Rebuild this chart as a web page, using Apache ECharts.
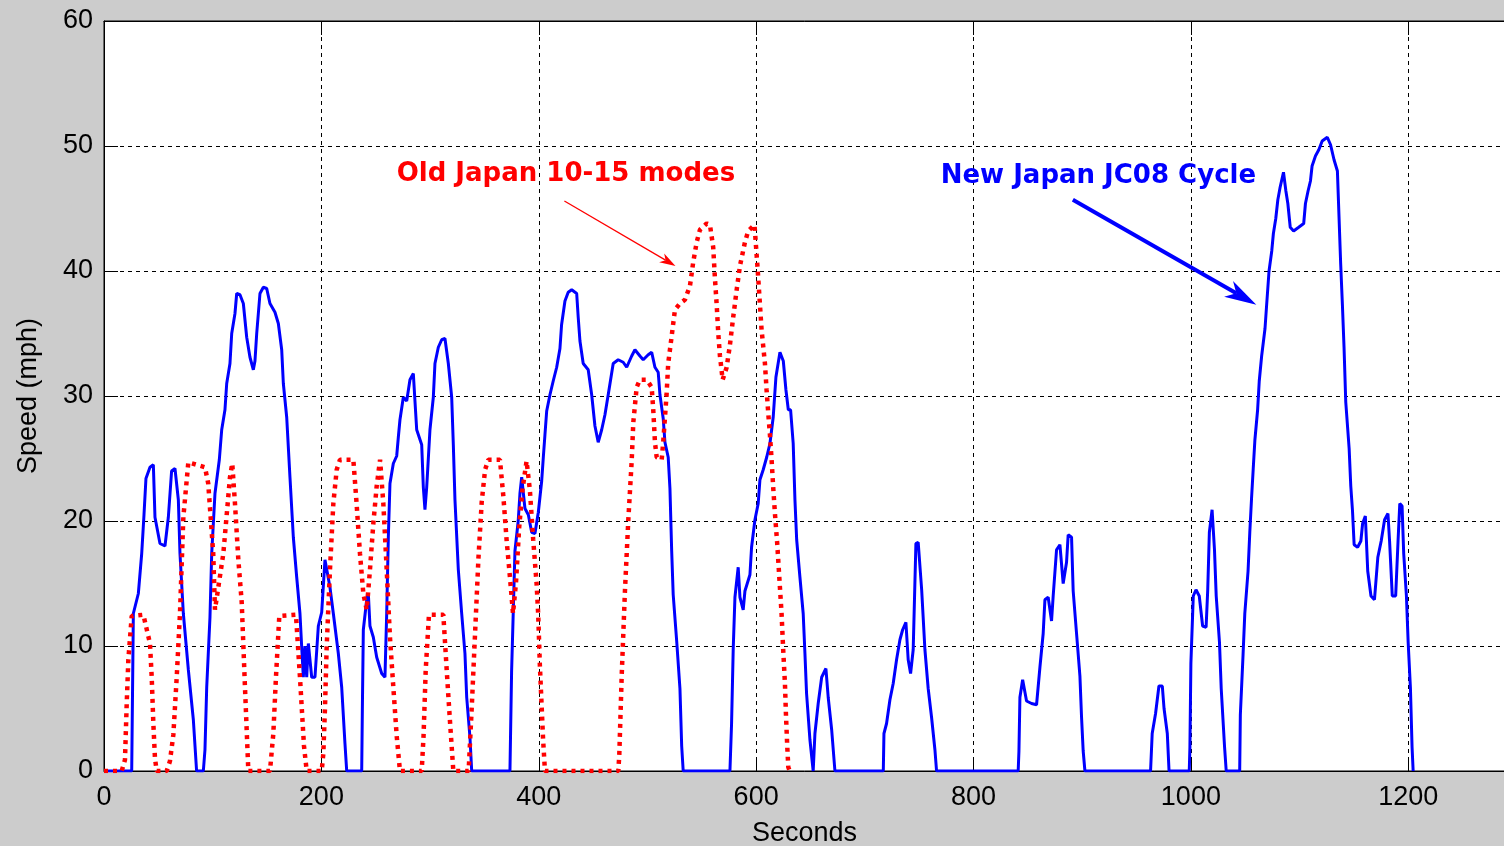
<!DOCTYPE html>
<html>
<head>
<meta charset="utf-8">
<script src="https://cdn.jsdelivr.net/npm/echarts@6/dist/echarts.min.js"></script>
<style>
html,body{margin:0;padding:0;background:#cccccc;}
#chart{width:1504px;height:846px;}
</style>
</head>
<body>
<div id="chart"></div>
<script>
// ---- Data (seconds, mph) ----
const jc08Time = [0,25.5,27,31.6,34.7,36.8,38.6,42.3,45.4,46.9,51.5,56.1,59.2,62.2,65.3,68.4,69.9,73,77.6,82.2,85.2,91.4,92.9,94.5,97.5,99.1,102.1,106.1,108.3,111.3,112.9,115.9,117.5,120.5,122.1,125.1,128.2,131.3,134.3,137.4,138.9,140.5,143.5,146.6,149.7,152.7,157.3,160.4,163.5,165,168.1,171.1,174.2,177.3,180.3,181.9,183.4,184.9,186.5,188,191.1,194.1,197.2,200.3,203.3,204.9,207.9,211,215.6,218.7,221.7,223.3,237.1,237.7,238.6,241.7,243.2,244.7,247.8,250.9,255.5,258.5,260.1,261.6,263.1,266.2,269.3,270.8,272.3,275.4,278.5,281.5,284.6,286.1,287.7,292.3,293.8,295.3,296.9,299.9,303,304.5,307.6,310.7,313.7,316.8,319.9,321.4,322.9,326,329.1,332.1,333.7,336.7,338.3,373.5,375,376.5,378.1,381.1,382.7,384.3,387.3,390.4,393.5,396.5,399.6,402.7,404.2,405.7,407.3,410.3,413.3,416.5,419.5,421,424.1,427.1,430.3,434.9,436.3,437.9,440.9,445.5,448.7,451.7,454.7,457.9,460.9,463.9,468.5,473.1,477.7,480.9,485.5,488.5,493.1,496.1,500.7,503.9,506.9,509.9,511.5,514.5,516.1,519.1,520.7,522.3,523.7,526.9,529.9,531.5,532.9,575.9,577.4,578.9,580.5,583.5,585.1,588.1,589.7,594.3,595.8,598.9,601.9,603.5,606.5,609.7,612.7,615.7,618.2,621.9,625,627.4,629.6,631.7,634.1,635.7,637.3,640.3,643.3,644.9,646.4,649.5,652.5,654.1,657.1,660.3,664.2,666.3,669.5,672.5,717,717.6,720,723.1,726.1,729.2,732.3,734.8,737.8,739.9,742.1,744.5,747,749.1,752.3,755.3,758.3,761.4,764.5,766,841.1,841.8,842.7,845.2,848.8,853.4,858,861.1,864.1,865.7,868.7,871.8,873.3,876.4,879.5,882.5,885.6,887.1,890.2,891.7,894.8,897.9,899.4,900.9,902.5,962.9,964.4,967.5,970.6,973.7,975.3,978.3,979.9,998.5,999.1,1000,1002.2,1004.7,1007.7,1010.8,1014,1015.5,1017,1019.5,1021.7,1023.3,1026.3,1027.9,1031,1032.5,1044.9,1045.5,1048,1049.6,1052.6,1054.2,1055.8,1057.3,1058.9,1061.4,1062.9,1065.1,1068.2,1069.7,1071.9,1074.4,1075.9,1078.1,1080,1082.1,1085.2,1087.4,1089.2,1091.4,1094.5,1099.2,1103.8,1105.4,1107.8,1110,1111.5,1114.6,1117.7,1120.8,1125.5,1128.5,1131.7,1134.8,1136.3,1137.8,1139.4,1140.9,1142.5,1145.6,1147.1,1148.7,1150.2,1153.4,1156.4,1158,1160.5,1162.7,1165.7,1168.9,1172,1175.1,1178.2,1181.3,1182.8,1185.3,1188.4,1190.6,1192.2,1194.3,1195.8,1198.3,1199.9,1202,1203.5,1204.5];
const jc08Speed = [0,0,12.6,14.2,17.4,20.5,23.4,24.3,24.5,20.3,18.2,18,20.3,24,24.2,21.7,17.4,12.6,8.1,4.1,0,0,1.7,6.7,12.3,17.4,22.2,24.9,27.3,28.9,31,32.6,35,36.6,38.2,38.1,37.4,34.7,33.1,32.1,32.8,35,38.2,38.7,38.6,37.4,36.7,35.8,33.7,31,28.3,23.5,18.7,15.5,12.6,9.9,7.5,10,7.5,10.2,7.5,7.5,11.6,12.7,16.9,16.9,14.7,12.6,9.4,6.7,2.2,0,0,4.9,11.3,13.7,14.2,11.6,10.7,9.1,7.8,7.5,12.6,18.7,23,24.6,25.2,26.7,28.1,29.9,29.6,31.3,31.8,29.6,27.3,26.1,22.7,20.9,22.7,27.3,29.9,32.6,33.9,34.5,34.6,32.6,29.9,26.1,21.7,16.1,12.6,9.4,5.9,2.7,0,0,7.9,12.6,17.6,20,22.2,23.5,21,20.5,19.1,19,20.7,23.2,25.1,26.9,28.8,30.1,31.2,32.3,33.8,35.7,37.6,38.3,38.5,38.2,36.3,34.4,32.6,32.1,30.1,27.6,26.3,27.3,28.5,30.1,32.6,32.9,32.7,32.3,33.2,33.7,33.2,32.9,33.3,33.5,32.3,31.9,30.1,28.2,26.3,25.1,22.6,17.6,14.1,10.4,6.6,2,0,0,3.8,9.7,13.9,16.3,13.9,12.9,14.4,15.7,17.9,20.1,21.4,23.3,24.1,25.1,26.2,28.3,31.5,33.5,32.8,30.5,28.9,28.9,26.2,21.7,18.5,15.5,12.6,9.4,6.2,2.5,0,3,5.4,7.5,8.2,5.9,3.3,0,0,3,3.8,5.7,7,8.9,10.5,11.3,11.9,8.9,7.8,9.7,18.2,18.3,14.5,9.7,6.6,4.3,1.7,0,0,1.6,5.9,7.3,5.6,5.4,5.3,8.3,11,13.7,13.9,12,14,17.7,18.1,15,16.7,18.9,18.7,14.4,11,7.6,4.3,1.6,0,0,3,4.6,6.8,6.8,5,3,0,0,1.9,8.6,14,14.5,14,11.6,11.5,14.5,19.1,20.9,17.7,14,10.3,6.6,1.9,0,0,4.5,9.3,12.6,16,19.1,21.8,24.1,26.5,28.9,31.2,33.2,35.4,37.3,40,41.6,43,44.2,45.7,46.7,47.9,46.4,45.4,43.5,43.2,43.5,43.8,45.4,46.4,47.2,48.4,49.2,49.7,50.4,50.7,50.1,48.9,48,44.3,40.6,37.3,33.9,29.5,25.8,22.8,20.8,18.1,17.9,18.4,19.8,20.4,16,14,13.7,17.1,18.4,20.1,20.6,18.4,14,14,18.4,21.4,21.2,17.4,14,10.3,6.6,1.9,0];

const mode1015Time = [0,16.3,19.3,20.9,22.4,25.5,36.2,42.3,43.9,45.4,46.9,48.5,57.7,60.7,63.8,66.9,69.9,73,77.6,92.9,95.9,100.5,102.1,109.8,115.9,118,120.5,123.6,126.7,129.7,132.8,152.7,155.8,158.2,161.3,176.6,180.3,184,186.5,200.3,201.8,203.3,204.9,207.9,211,214.1,217.1,229.4,232.4,235.5,238.6,241.7,244.7,247.8,250.9,254,257,260.1,263.1,266.2,269.3,272.3,292.3,294,296,299,312.2,315.3,318.3,321.4,335.5,338.3,341.4,344.5,347.5,350.6,353.6,364.3,367.4,370.4,373.5,376.3,379,382,385,388.8,391.8,394.9,398,399.5,401,402.5,404,405.7,473.2,474.1,476.3,479.3,482.4,485.5,487,490.1,493.1,499.3,503.9,505.4,506.9,508.5,513.1,514.5,517.6,519.1,522.3,525.3,529.9,534.5,539.1,542.1,545.3,548.3,554.5,557.5,560.5,562.1,563.7,565.1,566.7,569.2,572.9,575.9,578.9,582.1,585.1,589.7,592.7,598.5,601.5,605,608.1,609.6,611.1,612.7,614.3,615.7,617.3,619.4,621.3,623.4,624.9,626.5,627.4,628.6,629.6,631];
const mode1015Speed = [0,0,0.9,5.4,8.9,12.4,12.5,10.2,7.5,3.8,1,0,0,0.8,2.9,7.5,12.6,20.3,24.7,24.3,23,17.4,12.9,17.4,23.5,24.6,21.4,16.9,13.5,6.7,0,0,3,7.5,12.4,12.5,7.5,2,0,0,1.4,5,10,16.1,21.4,24.1,24.9,24.9,21.4,17.4,14.2,12.9,16.1,19.8,22.8,24.9,21.4,16.1,10.7,6.7,2.8,0,0,2.8,8.1,12.5,12.5,8.1,4,0,0,5,11,17,21.5,24.1,24.9,24.9,22,18.5,15.5,12.6,15,19.5,22.5,24.8,22.5,18.5,15,12.5,8.5,5.5,2.5,0,0,1.3,7.6,14.4,20.1,24.8,27.9,30.7,31.3,31.3,30.7,28.8,26.3,25.1,24.9,26.3,30.1,32.6,34.8,36.9,37.4,37.7,38.8,40.7,42.3,43.3,43.8,43.7,41.9,39.4,37.3,35.1,33.2,31.3,32.3,34.1,36.3,38.5,40.4,42.3,43.2,43.7,40,35.3,32.6,30.5,28.7,26.9,24.8,22.7,20.6,18.2,15.5,12.6,9.7,7,4.6,2,0.3,0];

const xTicks = {min: 0, max: 1289, step: 200};
const yTicks = {min: 0, max: 60, step: 10};

// annotations in data coordinates [seconds, mph]
const oldLabel = {text: 'Old Japan 10-15 modes', at: [425, 47.75]};
const oldArrow = {from: [423.6, 45.6], to: [525.8, 40.4]};
const newLabel = {text: 'New Japan JC08 Cycle', at: [914.9, 47.6]};
const newArrow = {from: [891.4, 45.7], to: [1060.2, 37.3]};

const zip = (a, b) => a.map((t, i) => [t, b[i]]);

const chart = echarts.init(document.getElementById('chart'), null, {renderer: 'canvas'});
const labelFont = {color: '#000', fontSize: 27, fontFamily: 'Liberation Sans, Arial, sans-serif'};
const grid = {color: '#000', type: [4, 4], width: 1};

chart.setOption({
  animation: false,
  backgroundColor: '#cccccc',
  grid: {left: 104, top: 21, right: -1, bottom: 75, containLabel: false, outerBoundsMode: 'none',
    show: true, backgroundColor: '#ffffff', borderColor: '#000', borderWidth: 1},
  xAxis: [{
    type: 'value', min: xTicks.min, max: xTicks.max, interval: xTicks.step, position: 'bottom',
    axisLine: {show: true, lineStyle: {color: '#000', width: 1}},
    axisTick: {show: true, inside: true, length: 14, lineStyle: {color: '#000', width: 1}},
    axisLabel: Object.assign({margin: 13, showMaxLabel: false, formatter: v => String(v)}, labelFont),
    splitLine: {show: true, lineStyle: grid},
    name: 'Seconds', nameLocation: 'middle', nameGap: 49, nameTextStyle: labelFont
  }, {
    type: 'value', min: xTicks.min, max: xTicks.max, interval: xTicks.step, position: 'top',
    axisLine: {show: true, lineStyle: {color: '#000', width: 1}},
    axisTick: {show: true, inside: true, length: 14, lineStyle: {color: '#000', width: 1}},
    axisLabel: {show: false}, splitLine: {show: false}
  }],
  yAxis: [{
    type: 'value', min: yTicks.min, max: yTicks.max, interval: yTicks.step,
    axisLine: {show: true, lineStyle: {color: '#000', width: 1}},
    axisTick: {show: true, inside: true, length: 14, lineStyle: {color: '#000', width: 1}},
    axisLabel: Object.assign({margin: 11}, labelFont),
    splitLine: {show: true, lineStyle: grid},
    name: 'Speed (mph)', nameLocation: 'middle', nameGap: 62, nameTextStyle: labelFont
  }],
  series: [{
    name: 'New Japan JC08 Cycle', type: 'line', xAxisIndex: 0, yAxisIndex: 0,
    data: zip(jc08Time, jc08Speed), showSymbol: false, symbol: 'none',
    lineStyle: {color: '#0000ff', width: 3}, z: 3
  }, {
    name: 'Old Japan 10-15 modes', type: 'line', xAxisIndex: 0, yAxisIndex: 0,
    data: zip(mode1015Time, mode1015Speed), showSymbol: false, symbol: 'none',
    lineStyle: {color: '#ff0000', width: 4.5, type: [4, 5], cap: 'butt'}, z: 4
  }]
});

function px(p) { return chart.convertToPixel({xAxisIndex: 0, yAxisIndex: 0}, p); }
function arrow(a, color, lw, L, W) {
  const s = px(a.from), e = px(a.to);
  const dx = e[0] - s[0], dy = e[1] - s[1], len = Math.hypot(dx, dy);
  const ux = dx / len, uy = dy / len, nx = -uy, ny = ux;
  const bx = e[0] - L * ux, by = e[1] - L * uy;
  const nxp = e[0] - 0.72 * L * ux, nyp = e[1] - 0.72 * L * uy;
  return [{
    type: 'line', z: 10, silent: true,
    shape: {x1: s[0], y1: s[1], x2: nxp, y2: nyp},
    style: {stroke: color, lineWidth: lw}
  }, {
    type: 'polygon', z: 10, silent: true,
    shape: {points: [[e[0], e[1]], [bx + W * nx, by + W * ny], [nxp, nyp], [bx - W * nx, by - W * ny]]},
    style: {fill: color}
  }];
}
function label(l, color) {
  const p = px(l.at);
  return {type: 'text', z: 10, silent: true, x: p[0], y: p[1],
    style: {text: l.text, fill: color, font: 'bold 26px "DejaVu Sans", sans-serif', align: 'center', verticalAlign: 'middle'}};
}
chart.setOption({graphic: [].concat(
  arrow(oldArrow, '#ff0000', 1.3, 16, 5),
  arrow(newArrow, '#0000ff', 4, 32, 9),
  [label(oldLabel, '#ff0000'), label(newLabel, '#0000ff')]
)});
</script>
</body>
</html>
